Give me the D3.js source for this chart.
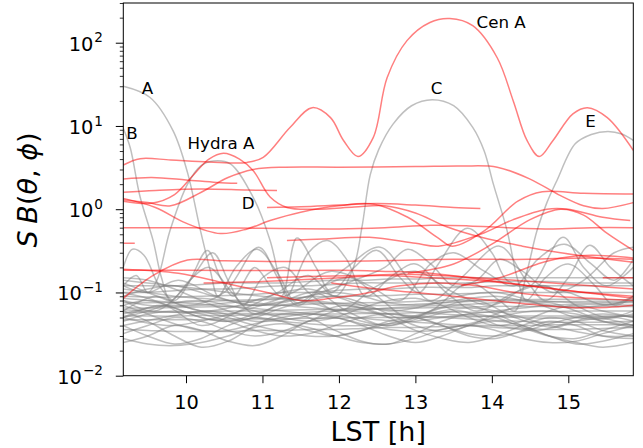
<!DOCTYPE html>
<html><head><meta charset="utf-8">
<script src="https://cdn.jsdelivr.net/npm/d3@7"></script>
<style>
html,body{margin:0;padding:0;background:#fff;}
svg{display:block;font-family:"DejaVu Sans",sans-serif;}
</style></head>
<body><svg id="chart" width="643" height="448"></svg>
<script>
// ---------- data ----------
const xTicks = [10, 11, 12, 13, 14, 15];
const yTickExps = [-2, -1, 0, 1, 2];
const xDomain = [9.18, 15.85];
const yDomain = [0.01, 300];

// red sources (above threshold) : [LST, S*B]
const redCenA = [[9.18,3.4],[9.4,4.05],[9.8,3.9],[10.3,3.7],[10.8,3.65],[11.01,4.2],[11.36,9.6],[11.65,16.6],[11.89,12.6],[12.06,6.7],[12.25,4.3],[12.45,7.3],[12.63,38],[12.89,106],[13.19,175],[13.45,195],[13.75,160],[14.07,66],[14.28,20],[14.46,6.7],[14.62,4.3],[14.8,6.7],[15.06,14],[15.25,16.6],[15.51,12.6],[15.85,5.1]];
const redHydraA = [[9.18,1.25],[9.55,1.18],[9.85,1.5],[10.1,2.6],[10.3,4.0],[10.49,4.7],[10.7,4.0],[10.88,2.9],[11.1,1.4],[11.32,1.05],[11.7,1.0],[12.2,1.06],[12.6,1.1],[13.0,0.9],[13.4,0.62],[13.9,0.45],[14.4,0.36],[14.9,0.3],[15.4,0.26],[15.85,0.23]];
const redA2 = [[9.18,2.3],[9.55,2.4],[10.0,2.25],[10.4,2.1],[10.67,2.05]];
const redB2 = [[9.18,1.6],[9.6,1.68],[10.2,1.75],[10.8,1.7],[11.19,1.68]];
const redRise = [[9.18,1.3],[9.5,1.2],[9.8,1.1],[10.2,1.6],[10.55,2.4],[10.88,3.0],[11.3,3.2],[12.0,3.2],[13.0,3.25],[13.6,3.3],[14.07,3.2],[14.5,2.3],[14.87,1.5],[15.2,1.1],[15.45,1.02],[15.85,1.2]];
const redDip = [[9.18,1.35],[9.6,1.05],[10.0,0.68],[10.45,0.51],[10.8,0.58],[11.1,0.73],[11.5,0.92],[12.0,1.1],[12.46,1.15],[12.9,0.8],[13.3,0.45],[13.48,0.36],[13.9,0.55],[14.34,1.25],[14.66,1.62],[15.2,1.55],[15.85,1.52]];
const redD = [[11.06,1.05],[11.5,1.07],[12.0,1.12],[12.5,1.17],[13.0,1.12],[13.5,1.05],[13.85,1.02]];
const redFlat = [[9.18,0.6],[10,0.6],[11,0.59],[12,0.58],[12.6,0.6],[13.2,0.64],[13.7,0.63],[14.2,0.6],[14.8,0.58],[15.3,0.6],[15.85,0.6]];
const redStub = [[9.18,0.39],[9.33,0.39]];
const redN = [[11.32,0.42],[11.8,0.44],[12.4,0.46],[13.0,0.39],[13.3,0.36],[13.85,0.5],[14.28,0.75],[14.72,1.0],[15.0,1.0],[15.45,0.8],[15.81,0.73]];
const redM = [[12.9,0.17],[13.5,0.22],[14.0,0.38],[14.5,0.75],[14.9,1.0],[15.2,0.85],[15.5,0.52],[15.85,0.32]];
const redP = [[9.18,0.085],[9.57,0.16],[10.02,0.245],[10.5,0.24],[11.5,0.235],[12.54,0.24],[13.5,0.25],[14.5,0.25],[15.2,0.26],[15.85,0.25]];
const redH = [[9.18,0.185],[10,0.185],[11,0.183],[12,0.185],[12.54,0.18],[13.2,0.17],[14.2,0.13],[15.0,0.105],[15.85,0.09]];
const redQ = [[10.23,0.13],[11.0,0.135],[12.0,0.15],[12.54,0.16],[13.2,0.15],[13.8,0.14],[14.5,0.12],[15.2,0.1],[15.85,0.085]];
const redS = [[11.06,0.15],[11.6,0.155],[12.3,0.16],[12.8,0.165],[13.3,0.16],[13.8,0.15],[14.3,0.14],[14.8,0.13],[15.3,0.12],[15.85,0.11]];
const redR = [[9.18,0.19],[9.9,0.17],[10.5,0.13],[11.06,0.1],[11.5,0.08],[11.9,0.085],[12.4,0.1],[12.8,0.12],[13.3,0.13],[13.8,0.12],[14.3,0.1],[14.8,0.09],[15.3,0.085],[15.85,0.08]];
const redStubR = [[15.45,0.15],[15.85,0.15]];
const redT = [[11.9,0.13],[12.5,0.11],[13.0,0.1],[13.5,0.09],[14.0,0.08],[14.5,0.072],[15.0,0.066],[15.5,0.066],[15.85,0.07]];
const redU = [[13.6,0.12],[14.1,0.15],[14.6,0.22],[14.9,0.26],[15.3,0.28],[15.85,0.26]];

// grey sources
const greyA = [[9.18,30],[9.53,22],[9.83,8.8],[10.02,2.75],[10.19,0.55],[10.32,0.18],[10.42,0.09],[10.65,0.2],[10.93,0.33],[11.2,0.17],[11.45,0.075],[11.8,0.12],[12.15,0.15],[12.5,0.09],[12.9,0.05],[13.3,0.065],[13.8,0.08],[14.3,0.05],[14.8,0.038],[15.3,0.05],[15.85,0.04]];
const greyB = [[9.18,9.3],[9.27,5.5],[9.4,1.4],[9.57,0.42],[9.68,0.15],[9.8,0.08],[10.05,0.14],[10.3,0.2],[10.6,0.1],[10.9,0.055],[11.3,0.08],[11.7,0.1],[12.1,0.06],[12.6,0.04],[13.1,0.05],[13.6,0.06],[14.1,0.04],[14.6,0.035],[15.1,0.045],[15.6,0.05],[15.85,0.045]];
const greyHydra = [[9.18,0.12],[9.35,0.16],[9.5,0.1],[9.62,0.14],[9.79,0.55],[10.02,2.0],[10.19,3.3],[10.36,3.8],[10.58,3.5],[10.88,1.38],[11.1,0.42],[11.23,0.14],[11.32,0.09],[11.6,0.3],[11.85,0.42],[12.1,0.25],[12.35,0.09],[12.7,0.16],[13.0,0.22],[13.4,0.1],[13.8,0.06],[14.3,0.1],[14.7,0.12],[15.1,0.07],[15.5,0.05],[15.85,0.06]];
const greyC = [[9.18,0.05],[9.7,0.07],[10.2,0.04],[10.7,0.06],[11.2,0.1],[11.6,0.16],[11.95,0.09],[12.19,0.2],[12.3,0.6],[12.41,2.6],[12.52,5.2],[12.71,10.6],[12.95,17.5],[13.22,20.7],[13.5,17.5],[13.75,9.6],[13.9,5],[14.02,2.0],[14.2,0.55],[14.34,0.14],[14.45,0.08],[14.7,0.15],[15.0,0.22],[15.35,0.12],[15.6,0.07],[15.85,0.09]];
const greyE = [[9.18,0.04],[9.7,0.05],[10.3,0.06],[10.9,0.045],[11.5,0.05],[12.1,0.07],[12.7,0.05],[13.2,0.06],[13.7,0.13],[14.1,0.08],[14.3,0.06],[14.46,0.18],[14.59,0.55],[14.72,1.2],[14.85,2.2],[15.09,6.1],[15.3,7.9],[15.52,8.6],[15.7,8.0],[15.85,6.7]];
const greyM1 = [[9.18,0.2],[9.3,0.33],[9.45,0.28],[9.65,0.12],[9.85,0.08],[10.1,0.16],[10.35,0.3],[10.55,0.14],[10.75,0.07],[11.0,0.15],[11.3,0.2],[11.6,0.1],[12.0,0.06],[12.5,0.12],[13.0,0.18],[13.5,0.1],[14.0,0.07],[14.5,0.12],[15.0,0.1],[15.5,0.07],[15.85,0.09]];
const greyM2 = [[9.18,0.08],[9.6,0.06],[10.0,0.12],[10.28,0.32],[10.45,0.15],[10.62,0.09],[10.9,0.2],[11.1,0.12],[11.25,0.09],[11.45,0.45],[11.7,0.2],[11.9,0.1],[12.2,0.2],[12.5,0.32],[12.8,0.15],[13.05,0.1],[13.3,0.22],[13.68,0.59],[14.0,0.3],[14.2,0.14],[14.5,0.12],[14.93,0.46],[15.2,0.2],[15.5,0.12],[15.85,0.2]];
const greyM3 = [[9.18,0.06],[9.6,0.09],[10.0,0.07],[10.5,0.1],[10.95,0.35],[11.2,0.15],[11.45,0.07],[11.8,0.12],[12.1,0.2],[12.54,0.35],[12.9,0.15],[13.2,0.08],[13.6,0.15],[14.1,0.36],[14.45,0.14],[14.7,0.08],[15.0,0.15],[15.28,0.37],[15.55,0.2],[15.85,0.12]];
const greyM4 = [[9.18,0.12],[9.5,0.1],[9.9,0.14],[10.4,0.09],[10.9,0.07],[11.4,0.1],[11.9,0.18],[12.4,0.12],[12.8,0.08],[13.2,0.22],[13.5,0.3],[13.9,0.18],[14.3,0.12],[14.6,0.25],[14.95,0.38],[15.3,0.22],[15.6,0.14],[15.85,0.25]];
const greyM5 = [[9.18,0.05],[9.8,0.04],[10.4,0.05],[11.0,0.07],[11.6,0.09],[12.2,0.14],[12.6,0.2],[12.9,0.33],[13.2,0.22],[13.5,0.12],[13.8,0.14],[14.1,0.25],[14.4,0.18],[14.8,0.1],[15.2,0.14],[15.6,0.3],[15.85,0.35]];

// faint background sources, sampled on a common LST grid
const bgLST = [9.18,9.5,9.85,10.2,10.55,10.9,11.25,11.6,11.95,12.3,12.65,13.0,13.35,13.7,14.05,14.4,14.75,15.1,15.45,15.85];
const bg01 = [0.12,0.12,0.12,0.125,0.13,0.13,0.13,0.135,0.14,0.14,0.145,0.145,0.15,0.15,0.15,0.15,0.15,0.15,0.15,0.15];
const bg02 = [0.1,0.1,0.105,0.11,0.11,0.115,0.12,0.12,0.125,0.13,0.13,0.13,0.13,0.13,0.135,0.135,0.135,0.13,0.13,0.13];
const bg03 = [0.09,0.088,0.088,0.09,0.092,0.095,0.1,0.1,0.105,0.11,0.11,0.115,0.115,0.115,0.12,0.12,0.12,0.12,0.12,0.12];
const bg04 = [0.075,0.075,0.076,0.078,0.08,0.082,0.085,0.088,0.09,0.09,0.092,0.095,0.095,0.097,0.1,0.1,0.1,0.1,0.1,0.1];
const bg05 = [0.065,0.065,0.066,0.067,0.068,0.07,0.07,0.072,0.074,0.075,0.076,0.078,0.08,0.08,0.082,0.082,0.083,0.083,0.082,0.082];
const bg06 = [0.058,0.058,0.058,0.059,0.06,0.06,0.061,0.062,0.063,0.063,0.064,0.065,0.066,0.067,0.068,0.068,0.068,0.068,0.068,0.068];
const bg07 = [0.052,0.052,0.052,0.053,0.053,0.054,0.054,0.055,0.055,0.056,0.056,0.057,0.058,0.058,0.058,0.059,0.059,0.06,0.06,0.06];
const bg08 = [0.047,0.047,0.047,0.047,0.048,0.048,0.048,0.049,0.049,0.05,0.05,0.05,0.051,0.051,0.052,0.052,0.052,0.052,0.052,0.052];
const bg09 = [0.11,0.1,0.09,0.085,0.08,0.075,0.07,0.066,0.062,0.058,0.055,0.052,0.05,0.048,0.046,0.045,0.044,0.044,0.044,0.045];
const bg10 = [0.14,0.13,0.12,0.11,0.1,0.092,0.085,0.078,0.072,0.066,0.062,0.058,0.055,0.053,0.051,0.05,0.049,0.05,0.051,0.052];
const bg11 = [0.085,0.08,0.076,0.072,0.068,0.064,0.06,0.056,0.052,0.049,0.046,0.044,0.042,0.04,0.038,0.037,0.036,0.036,0.037,0.038];
const bg12 = [0.04,0.03,0.024,0.028,0.04,0.05,0.045,0.035,0.03,0.035,0.045,0.05,0.04,0.03,0.028,0.035,0.045,0.04,0.03,0.028];
const bg13 = [0.025,0.03,0.04,0.035,0.026,0.023,0.03,0.045,0.05,0.04,0.03,0.025,0.03,0.04,0.045,0.04,0.03,0.024,0.026,0.032];
const bg14 = [0.06,0.045,0.03,0.022,0.026,0.04,0.055,0.05,0.035,0.026,0.024,0.032,0.045,0.055,0.05,0.038,0.03,0.028,0.035,0.045];
const bg15 = [0.032,0.04,0.05,0.045,0.035,0.03,0.034,0.045,0.06,0.065,0.05,0.035,0.028,0.025,0.03,0.04,0.05,0.045,0.035,0.03];
const bg16 = [0.07,0.08,0.065,0.05,0.045,0.055,0.07,0.075,0.06,0.045,0.04,0.05,0.065,0.07,0.055,0.04,0.03,0.025,0.022,0.025];
const bg17 = [0.05,0.06,0.075,0.08,0.07,0.06,0.05,0.045,0.05,0.065,0.08,0.085,0.07,0.05,0.04,0.045,0.06,0.07,0.06,0.05];
const bg18 = [0.1,0.085,0.065,0.05,0.045,0.05,0.065,0.08,0.09,0.075,0.055,0.04,0.034,0.04,0.055,0.07,0.075,0.06,0.045,0.038];
const bg19 = [0.028,0.024,0.023,0.025,0.03,0.038,0.042,0.038,0.03,0.025,0.024,0.028,0.036,0.04,0.035,0.028,0.025,0.026,0.032,0.04];
const bg20 = [0.045,0.055,0.06,0.055,0.045,0.035,0.03,0.032,0.04,0.05,0.055,0.05,0.04,0.032,0.03,0.034,0.042,0.05,0.055,0.05];
const bg21 = [0.13,0.1,0.075,0.06,0.065,0.08,0.1,0.11,0.09,0.07,0.06,0.065,0.08,0.095,0.1,0.085,0.065,0.05,0.048,0.055];
const bg22 = [0.09,0.11,0.12,0.1,0.08,0.07,0.075,0.09,0.1,0.09,0.075,0.07,0.075,0.085,0.09,0.08,0.07,0.065,0.07,0.08];
const bg23 = [0.036,0.035,0.034,0.034,0.034,0.035,0.035,0.036,0.036,0.037,0.038,0.038,0.039,0.04,0.04,0.04,0.041,0.041,0.041,0.041];
const bg24 = [0.062,0.06,0.058,0.057,0.056,0.056,0.056,0.058,0.06,0.062,0.065,0.068,0.07,0.072,0.075,0.077,0.078,0.078,0.078,0.078];
const bg25 = [0.07,0.055,0.042,0.035,0.035,0.042,0.05,0.055,0.05,0.042,0.036,0.034,0.036,0.042,0.05,0.058,0.06,0.055,0.045,0.04];
const bg26 = [0.055,0.065,0.07,0.06,0.05,0.04,0.034,0.03,0.03,0.035,0.042,0.05,0.06,0.065,0.06,0.05,0.04,0.034,0.03,0.03];
const bg27 = [0.08,0.07,0.068,0.07,0.075,0.08,0.083,0.08,0.075,0.07,0.07,0.072,0.075,0.078,0.08,0.08,0.078,0.075,0.075,0.076];
const bg28 = [0.15,0.14,0.11,0.08,0.06,0.05,0.045,0.042,0.04,0.04,0.042,0.045,0.05,0.055,0.06,0.065,0.07,0.072,0.072,0.07];

const labels = [
  {text:"A", lst:9.42, val:24.5},
  {text:"B", lst:9.22, val:6.9},
  {text:"Hydra A", lst:10.02, val:5.3},
  {text:"D", lst:10.73, val:1.0},
  {text:"C", lst:13.2, val:24.5},
  {text:"Cen A", lst:13.8, val:150},
  {text:"E", lst:15.22, val:9.6}
];

// ---------- drawing ----------
const svg = d3.select("#chart");
const L = 123.3, R = 633.3, T = 3, B = 375.7;
const x = d3.scaleLinear().domain(xDomain).range([L, R]);
const y = d3.scaleLog().domain(yDomain).range([B, T]);

svg.append("defs").append("clipPath").attr("id","clip")
  .append("rect").attr("x",L).attr("y",T).attr("width",R-L).attr("height",B-T);

const line = d3.line().x(d=>x(d[0])).y(d=>y(d[1])).curve(d3.curveCatmullRom.alpha(0.5));
const g = svg.append("g").attr("clip-path","url(#clip)");

const bgs = [bg01,bg02,bg03,bg04,bg05,bg06,bg07,bg08,bg09,bg10,bg11,bg12,bg13,bg14,bg15,bg16,bg17,bg18,bg19,bg20,bg21,bg22,bg23,bg24,bg25,bg26,bg27,bg28];
const greys = bgs.map(a => a.map((v,i)=>[bgLST[i], v]))
  .concat([greyM1,greyM2,greyM3,greyM4,greyM5,greyA,greyB,greyHydra,greyC,greyE]);
const reds = [redCenA,redHydraA,redA2,redB2,redRise,redDip,redD,redFlat,redStub,redN,redM,redP,redH,redQ,redS,redR,redStubR,redT,redU];

g.selectAll("path.grey").data(greys).join("path").attr("class","grey")
  .attr("d", line).attr("fill","none").attr("stroke","#808080")
  .attr("stroke-opacity",0.5).attr("stroke-width",1.5);
g.selectAll("path.red").data(reds).join("path").attr("class","red")
  .attr("d", line).attr("fill","none").attr("stroke","#ff0000")
  .attr("stroke-opacity",0.5).attr("stroke-width",1.5);

// axes frame
svg.append("rect").attr("x",L).attr("y",T).attr("width",R-L).attr("height",B-T)
  .attr("fill","none").attr("stroke","#000").attr("stroke-width",1);

// x axis
const xAxis = d3.axisBottom(x).tickValues(xTicks).tickSize(7.5).tickPadding(12.5).tickFormat(d3.format("d"));
const gx = svg.append("g").attr("transform",`translate(0,${B})`).call(xAxis);
gx.select(".domain").remove();
gx.selectAll("text").attr("font-size","19.4px").attr("font-family","DejaVu Sans").attr("fill","#000");
gx.selectAll("line").attr("stroke","#000");

// y axis: major and minor ticks
const minor = [];
for (let e=-2; e<=2; e++) for (let m=2; m<=9; m++) { const v=m*Math.pow(10,e); if (v<=yDomain[1]) minor.push(v); }
const yMinor = d3.axisLeft(y).tickValues(minor).tickSize(3.5).tickFormat("");
const gym = svg.append("g").attr("transform",`translate(${L},0)`).call(yMinor);
gym.select(".domain").remove();
gym.selectAll("line").attr("stroke","#000").attr("stroke-width",0.8);

const yMajor = d3.axisLeft(y).tickValues(yTickExps.map(e=>Math.pow(10,e))).tickSize(7.5).tickFormat("");
const gyM = svg.append("g").attr("transform",`translate(${L},0)`).call(yMajor);
gyM.select(".domain").remove();
gyM.selectAll("line").attr("stroke","#000");

const ylab = svg.append("g");
yTickExps.forEach(e=>{
  const t = ylab.append("text").attr("x",103).attr("y",y(Math.pow(10,e))+8)
    .attr("text-anchor","end").attr("font-size","19.4px").attr("fill","#000");
  t.append("tspan").text("10");
  t.append("tspan").attr("dx",1).attr("dy",-8.3).attr("font-size","13.6px").text((e<0?"\u2212":"")+Math.abs(e));
});

// axis titles
svg.append("text").attr("x",(L+R)/2).attr("y",441).attr("text-anchor","middle")
  .attr("font-size","27px").attr("fill","#000").text("LST [h]");
const yt = svg.append("text").attr("transform","translate(37,190) rotate(-90)")
  .attr("text-anchor","middle").attr("font-size","27px").attr("fill","#000");
yt.append("tspan").attr("font-style","italic").text("S");
yt.append("tspan").text("\u2005");
yt.append("tspan").attr("font-style","italic").text("B");
yt.append("tspan").text("(");
yt.append("tspan").attr("font-style","italic").text("\u03b8");
yt.append("tspan").text(", ");
yt.append("tspan").attr("font-style","italic").text("\u03d5");
yt.append("tspan").text(")");

// source annotations
svg.append("g").selectAll("text").data(labels).join("text")
  .attr("x", d=>x(d.lst)).attr("y", d=>y(d.val))
  .attr("font-size","16.7px").attr("fill","#000").text(d=>d.text);
</script></body></html>
